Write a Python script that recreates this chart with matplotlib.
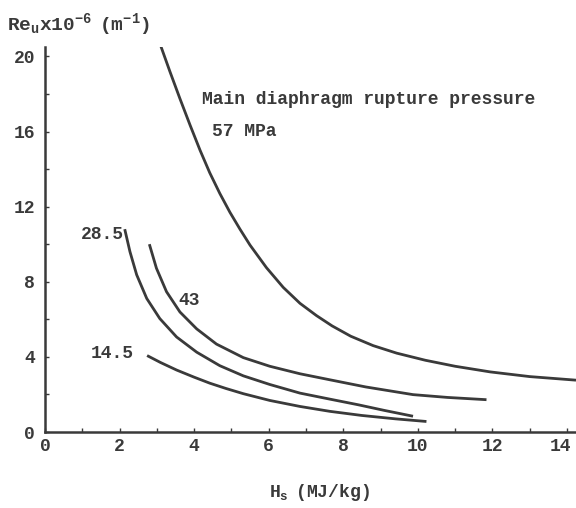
import matplotlib
matplotlib.use("Agg")
import matplotlib.pyplot as plt
from matplotlib.ticker import MultipleLocator
from matplotlib.transforms import ScaledTranslation

# Re_u x 10^-6 vs H_s, one curve per main diaphragm rupture pressure (MPa)
H_57 = [3.08, 3.35, 3.62, 3.89, 4.16, 4.42, 4.69, 4.96, 5.23, 5.50, 5.94, 6.39,
        6.84, 7.28, 7.70, 8.20, 8.80, 9.43, 10.2, 11.0, 11.94, 13.0, 14.24]
RE_57 = [20.7, 19.2, 17.75, 16.35, 15.0, 13.8, 12.7, 11.7, 10.8, 9.95, 8.75, 7.7,
         6.85, 6.2, 5.65, 5.1, 4.6, 4.2, 3.82, 3.5, 3.2, 2.95, 2.76]

H_43 = [2.80, 2.99, 3.26, 3.62, 4.07, 4.60, 5.32, 6.03, 6.84, 7.64, 8.6, 9.87, 10.8, 11.84]
RE_43 = [10.0, 8.72, 7.47, 6.39, 5.49, 4.68, 3.96, 3.5, 3.1, 2.78, 2.4, 1.99, 1.84, 1.72]

H_285 = [2.14, 2.28, 2.46, 2.73, 3.08, 3.53, 4.07, 4.69, 5.32, 6.03, 6.84, 7.64, 8.4, 9.1, 9.87]
RE_285 = [10.8, 9.6, 8.37, 7.11, 6.04, 5.06, 4.25, 3.53, 2.99, 2.53, 2.07, 1.75, 1.45, 1.15, 0.84]

H_145 = [2.74, 3.10, 3.53, 4.00, 4.42, 4.85, 5.32, 6.03, 6.84, 7.64, 8.5, 9.4, 10.23]
RE_145 = [4.07, 3.7, 3.3, 2.92, 2.6, 2.32, 2.04, 1.68, 1.36, 1.1, 0.88, 0.7, 0.56]

INK = "#3a3a3a"
FONT = "Liberation Mono"

plt.rcParams["font.family"] = FONT
plt.rcParams["font.weight"] = "bold"
plt.rcParams["mathtext.fontset"] = "custom"
plt.rcParams["mathtext.rm"] = FONT + ":bold"
plt.rcParams["mathtext.it"] = FONT + ":bold"

fig = plt.figure(figsize=(5.76, 5.08), dpi=100)
ax = fig.add_axes([0.078, 0.1496, 0.922, 0.7579])

for h, re in [(H_57, RE_57), (H_43, RE_43), (H_285, RE_285), (H_145, RE_145)]:
    ax.plot(h, re, color=INK, lw=2.0, solid_capstyle="butt", solid_joinstyle="round")

ax.set_xlim(0, 14.24)
ax.set_ylim(0, 20.5)
ax.xaxis.set_major_locator(MultipleLocator(2))
ax.xaxis.set_minor_locator(MultipleLocator(1))
ax.yaxis.set_major_locator(MultipleLocator(4))
ax.yaxis.set_minor_locator(MultipleLocator(2))
ax.tick_params(which="both", direction="in", length=3, width=1, color=INK,
               labelsize=13, labelcolor=INK)
ax.tick_params(axis="y", pad=7)
ax.tick_params(axis="x", pad=4)

for side in ("top", "right"):
    ax.spines[side].set_visible(False)
for side in ("left", "bottom"):
    ax.spines[side].set_linewidth(1.8)
    ax.spines[side].set_color(INK)

txt = dict(color=INK, fontsize=13)
ax.text(4.21, 17.7, "Main diaphragm rupture pressure", ha="left", va="center", **txt)
ax.text(4.48, 16.0, "57 MPa", ha="left", va="center", **txt)
ax.text(2.12, 10.5, "28.5", ha="right", va="center", **txt)
ax.text(3.86, 7.0, "43", ha="center", va="center", **txt)
ax.text(2.39, 4.16, "14.5", ha="right", va="center", **txt)

fig.text(0.012, 0.941, r"$\mathrm{Re_u x10^{-6}\ \ (m^{-1})}$", ha="left",
         va="baseline", color=INK, fontsize=14)
fig.text(0.554, 0.031, r"$\mathrm{H_s\ \ (MJ/kg)}$", ha="center", va="center",
         color=INK, fontsize=13)

# the last x label sits a little left of its tick, as in the original typescript
fig.canvas.draw()
shift = ScaledTranslation(-5 / 72, 0, fig.dpi_scale_trans)
for lab in ax.get_xticklabels():
    if lab.get_text() == "14":
        lab.set_transform(lab.get_transform() + shift)

fig.savefig("out.png", dpi=100)
